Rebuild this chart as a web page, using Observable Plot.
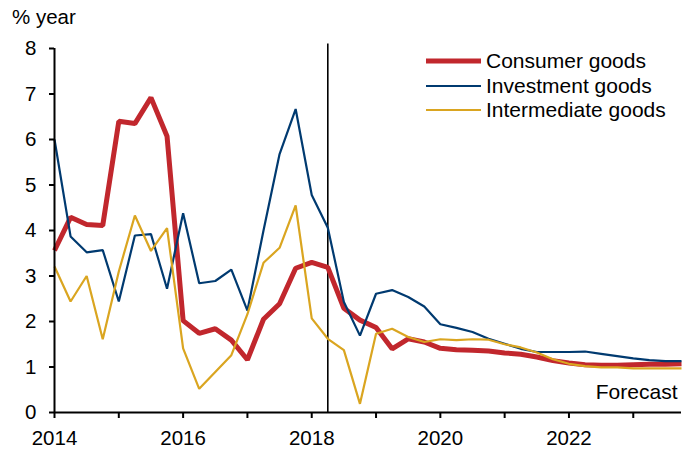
<!DOCTYPE html>
<html>
<head>
<meta charset="utf-8">
<script src="https://cdn.jsdelivr.net/npm/d3@7"></script>
<script src="https://cdn.jsdelivr.net/npm/@observablehq/plot@0.6"></script>
<style>
  html, body { margin: 0; padding: 0; background: #fff; }
  #wrap { position: relative; width: 693px; height: 449px; font-family: "Liberation Sans", Arial, sans-serif; color: #000; }
  #wrap svg { position: absolute; left: 0; top: 0; }
  .unit { position: absolute; left: 12px; top: 5px; font-size: 20.5px; }
  .legend { position: absolute; left: 426px; top: 49px; font-size: 21px; }
  .legend .row { display: flex; align-items: center; height: 24.5px; }
  .legend svg { position: static !important; margin-right: 5px; }
</style>
</head>
<body>
<div id="wrap"></div>
<script>
const quarters = d3.range(40).map(i => 2014 + i / 4);
const seriesNames = ["Consumer goods", "Investment goods", "Intermediate goods"];
const consumer = [3.56, 4.29, 4.13, 4.11, 6.40, 6.35, 6.92, 6.07, 2.02, 1.74, 1.84, 1.59, 1.16, 2.05, 2.39, 3.17, 3.30, 3.19, 2.29, 2.03, 1.87, 1.40, 1.62, 1.55, 1.41, 1.38, 1.37, 1.35, 1.31, 1.28, 1.22, 1.14, 1.09, 1.05, 1.04, 1.04, 1.05, 1.06, 1.06, 1.07];
const investment = [6.00, 3.87, 3.52, 3.57, 2.44, 3.89, 3.92, 2.72, 4.38, 2.84, 2.89, 3.14, 2.24, 4.00, 5.68, 6.67, 4.78, 4.06, 2.43, 1.69, 2.61, 2.69, 2.54, 2.33, 1.94, 1.86, 1.77, 1.62, 1.51, 1.40, 1.33, 1.33, 1.33, 1.34, 1.29, 1.24, 1.19, 1.15, 1.13, 1.13];
const intermediate = [3.21, 2.44, 3.00, 1.61, 3.10, 4.33, 3.55, 4.05, 1.41, 0.52, 0.89, 1.26, 2.16, 3.29, 3.62, 4.55, 2.07, 1.62, 1.37, 0.19, 1.73, 1.84, 1.66, 1.55, 1.61, 1.59, 1.61, 1.60, 1.50, 1.43, 1.32, 1.17, 1.07, 1.02, 0.99, 0.99, 0.97, 0.97, 0.97, 0.97];
const xTicks = d3.range(2014, 2024);
const xTickLabels = ["2014", "", "2016", "", "2018", "", "2020", "", "2022", ""];
const yTicks = [0, 1, 2, 3, 4, 5, 6, 7, 8];
const forecastStart = 2018.25;
const forecastLabel = "Forecast";
const unitLabel = "% year";

const colors = ["#C1272D", "#003A70", "#DAA520"];
const widths = [5, 2.2, 2.2];
const values = [consumer, investment, intermediate];

const marks = [];
values.forEach((vals, k) => {
  marks.push(Plot.line(quarters.map((q, i) => ({x: q, y: vals[i]})), {
    x: "x", y: "y", stroke: colors[k], strokeWidth: widths[k], strokeLinejoin: "miter", strokeLinecap: "butt"
  }));
});

const chart = Plot.plot({
  width: 693,
  height: 449,
  marginLeft: 54,
  marginRight: 12,
  marginTop: 48,
  marginBottom: 37,
  style: {fontFamily: "Liberation Sans, Arial, sans-serif", fontSize: "20.5px", color: "#000", background: "#fff", overflow: "visible"},
  x: {domain: [2014, 2023.75]},
  y: {domain: [0, 8]},
  marks: [
    Plot.ruleX([forecastStart], {y1: 0, y2: 8.1, stroke: "#000", strokeWidth: 1.6}),
    ...marks,
    Plot.ruleY([0], {x1: 2014, x2: 2023.75, stroke: "#000", strokeWidth: 2}),
    Plot.ruleX([2014], {y1: 0, y2: 8, stroke: "#000", strokeWidth: 2}),
    Plot.axisY(yTicks, {tickSize: 5, tickPadding: 13, strokeWidth: 2, label: null, fontSize: 20.5}),
    Plot.axisX(xTicks, {tickSize: 6, tickPadding: 12, strokeWidth: 2, label: null, fontSize: 20.5,
      tickFormat: d => xTickLabels[xTicks.indexOf(d)]}),
    Plot.text([forecastLabel], {x: () => 2023.75, y: () => 0.45, text: d => d, textAnchor: "end", dx: -4, fontSize: 21, fill: "#000"})
  ]
});

const wrap = document.getElementById("wrap");
wrap.appendChild(chart);

const unit = document.createElement("div");
unit.className = "unit";
unit.textContent = unitLabel;
wrap.appendChild(unit);

const legend = document.createElement("div");
legend.className = "legend";
seriesNames.forEach((name, k) => {
  const row = document.createElement("div");
  row.className = "row";
  row.innerHTML = `<svg width="55" height="8"><line x1="0" x2="55" y1="4" y2="4" stroke="${colors[k]}" stroke-width="${widths[k]}" stroke-linecap="${k === 0 ? 'round' : 'butt'}"/></svg><span>${name}</span>`;
  legend.appendChild(row);
});
wrap.appendChild(legend);
</script>
</body>
</html>
